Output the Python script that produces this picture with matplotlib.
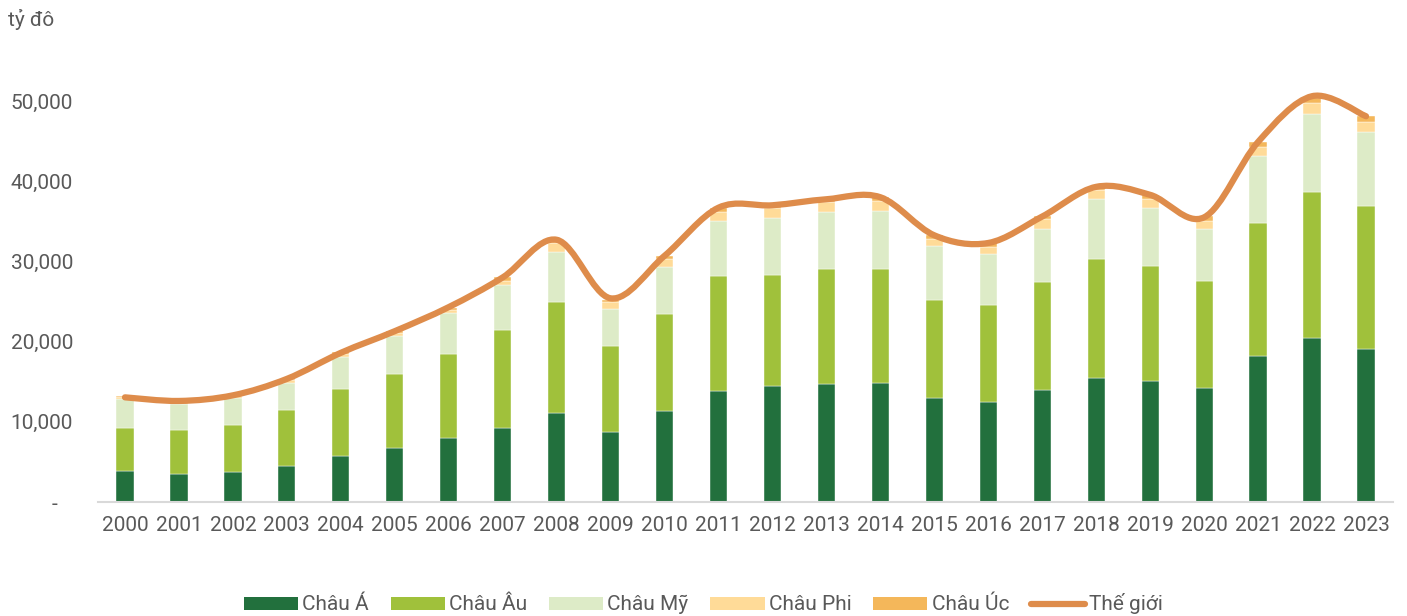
import numpy as np
import matplotlib.pyplot as plt
from matplotlib.path import Path
from matplotlib.patches import PathPatch
from matplotlib.lines import Line2D
from matplotlib.patches import Patch

plt.rcParams['font.family'] = ['Roboto', 'DejaVu Sans']

years = [str(y) for y in range(2000, 2024)]
chau_a = [3880, 3540, 3790, 4540, 5750, 6790, 7920, 9250, 11100, 8750, 11400, 13900,
          14500, 14750, 14900, 13000, 12500, 14000, 15500, 15100, 14250, 18250, 20400, 19100]
chau_au = [5370, 5460, 5750, 6960, 8340, 9210, 10580, 12250, 13900, 10750, 12000, 14300,
           13750, 14250, 14140, 12160, 12040, 13400, 14750, 14300, 13350, 16500, 18300, 17800]
chau_my = [3625, 3250, 3460, 3400, 4010, 4750, 5100, 5600, 6200, 4600, 5900, 6800,
           7150, 7100, 7260, 6740, 6360, 6700, 7500, 7300, 6500, 8350, 9700, 9200]
chau_phi = [200, 200, 200, 250, 300, 300, 350, 500, 1050, 800, 950, 1200,
            1200, 1300, 1240, 900, 900, 1150, 1150, 1100, 900, 1150, 1400, 1300]
chau_uc = [150, 150, 150, 200, 250, 250, 300, 400, 350, 300, 450, 400,
           400, 350, 460, 450, 450, 350, 300, 450, 600, 650, 600, 700]
the_gioi = [13050, 12600, 13300, 15350, 18600, 21300, 24300, 28000, 32700, 25400, 30700, 36700,
            37000, 37750, 38000, 33250, 32300, 35600, 39300, 38300, 35500, 44900, 50600, 48100]

series = [("Châu Á", chau_a, "#22703d"),
          ("Châu Âu", chau_au, "#a0c13b"),
          ("Châu Mỹ", chau_my, "#ddebc7"),
          ("Châu Phi", chau_phi, "#ffdb98"),
          ("Châu Úc", chau_uc, "#f4b75a")]
line_color = "#de8c4b"
text_color = "#595959"

fig = plt.figure(figsize=(14.07, 6.16), dpi=100)
ax = fig.add_axes([98 / 1407, 1 - 502 / 616, (1393 - 98) / 1407, (502 - 101) / 616 * 55000 / 50000])

x = np.arange(len(years))
bottom = np.zeros(len(years))
for name, vals, col in series:
    ax.bar(x, vals, width=0.32, bottom=bottom, color=col, edgecolor="white", linewidth=0.3, zorder=2)
    bottom += np.array(vals)

# duong cong muot kieu Excel (Catmull-Rom -> Bezier)
pts = np.column_stack([x, the_gioi]).astype(float)
verts = [tuple(pts[0])]
codes = [Path.MOVETO]
n = len(pts)
for i in range(n - 1):
    p0 = pts[i - 1] if i > 0 else pts[i]
    p1 = pts[i]
    p2 = pts[i + 1]
    p3 = pts[i + 2] if i + 2 < n else pts[i + 1]
    c1 = p1 + (p2 - p0) / 6
    c2 = p2 - (p3 - p1) / 6
    verts += [tuple(c1), tuple(c2), tuple(p2)]
    codes += [Path.CURVE4] * 3
ax.add_patch(PathPatch(Path(verts, codes), facecolor="none", edgecolor=line_color,
                       lw=4.5, capstyle="round", joinstyle="round", zorder=3))

ax.set_xlim(-0.5, len(years) - 0.5)
ax.set_ylim(0, 55000)
ax.set_xticks(x)
ax.set_xticklabels(years)
ax.set_yticks([0, 10000, 20000, 30000, 40000, 50000])
ax.set_yticklabels(["-   ", "10,000", "20,000", "30,000", "40,000", "50,000"])
ax.tick_params(axis="both", length=0, labelsize=15, colors=text_color)
ax.tick_params(axis="x", pad=10)
ax.tick_params(axis="y", pad=18)
for s in ["top", "right", "left"]:
    ax.spines[s].set_visible(False)
ax.spines["bottom"].set_color("#d9d9d9")
ax.spines["bottom"].set_linewidth(1.5)

fig.text(8 / 1407, 1 - 20 / 616, "tỷ đô", fontsize=15, color=text_color, va="center", ha="left")

handles = [Patch(facecolor=col, label=name) for name, _, col in series]
handles.append(Line2D([0], [0], color=line_color, lw=4.5, solid_capstyle="round", label="Thế giới"))
fig.legend(handles=handles, loc="center", bbox_to_anchor=(0.5, 1 - 604 / 616), ncol=6,
           frameon=False, fontsize=15, labelcolor=text_color, handlelength=2.6, handleheight=0.6,
           handletextpad=0.2, columnspacing=1.05)

fig.savefig("out.png", dpi=100)
